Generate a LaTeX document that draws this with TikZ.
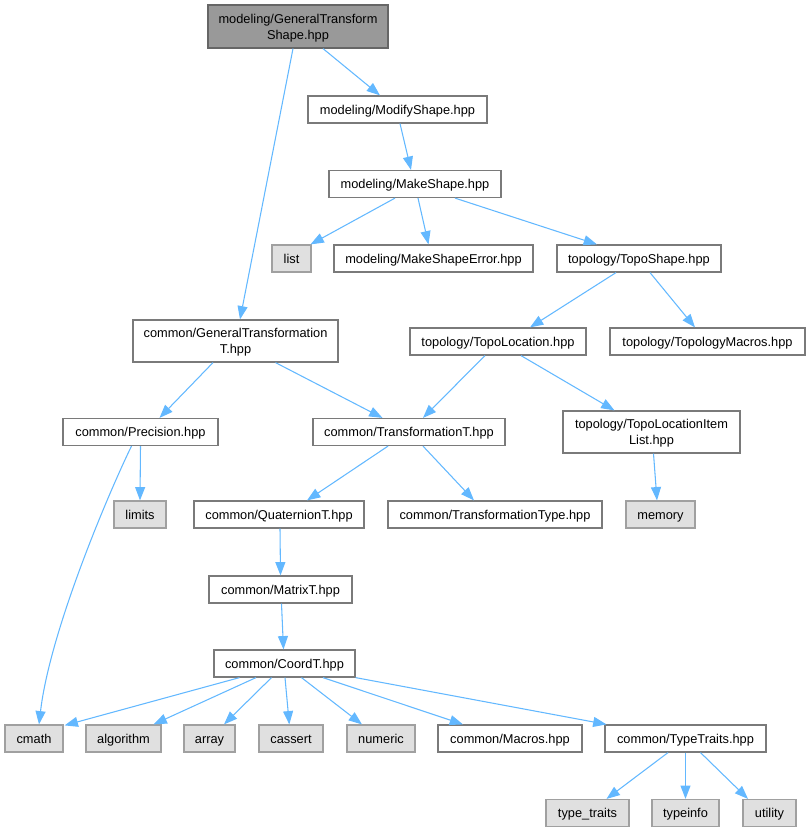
\documentclass[tikz,border=0pt]{standalone}
\usepackage{fontspec}
\setmainfont{Liberation Sans}
\usetikzlibrary{arrows.meta,calc}
\definecolor{edgec}{HTML}{63B8FF}
\definecolor{extfill}{HTML}{E0E0E0}
\definecolor{extdraw}{HTML}{A0A0A0}
\definecolor{regdraw}{HTML}{7A7A7A}
\definecolor{topfill}{HTML}{999999}
\definecolor{topdraw}{HTML}{666666}
\begin{document}
\begin{tikzpicture}[x=0.75pt,y=-0.75pt,
  every node/.style={font=\fontsize{9.6}{12}\selectfont, inner sep=0pt, align=center, text height=7.6pt, text depth=0.8pt},
  reg/.style={draw=regdraw, fill=white, line width=0.9pt, minimum height=20.25pt},
  ext/.style={draw=extdraw, fill=extfill, line width=0.9pt, minimum height=20.25pt},
  topn/.style={draw=topdraw, fill=topfill, line width=0.9pt, minimum height=32.25pt, text height=, text depth=0pt},
  two/.style={minimum height=31.5pt, text height=, text depth=0pt},
  edge/.style={draw=edgec, line width=0.8pt, -{Triangle[length=10pt,width=7.5pt]}}]
\useasboundingbox (0,0) rectangle (810,832);
% nodes
\node[topn, minimum width=135pt] (top) at (298,26.5) {modeling/GeneralTransform\\Shape.hpp};
\node[reg, minimum width=134.25pt] (mod) at (397.5,109.5) {modeling/ModifyShape.hpp};
\node[reg, minimum width=129pt] (make) at (415,184) {modeling/MakeShape.hpp};
\node[ext, minimum width=29.25pt] (list) at (291.5,258.5) {list};
\node[reg, minimum width=149.25pt] (err) at (433.5,258.5) {modeling/MakeShapeError.hpp};
\node[reg, minimum width=123pt] (tshape) at (639,258.5) {topology/TopoShape.hpp};
\node[reg, two, minimum width=153.75pt] (gtt) at (235.5,341) {common/GeneralTransformation\\T.hpp};
\node[reg, minimum width=132pt] (tloc) at (498,341.5) {topology/TopoLocation.hpp};
\node[reg, minimum width=146.25pt] (tmac) at (707.5,341.5) {topology/TopologyMacros.hpp};
\node[reg, minimum width=116.25pt] (prec) at (140.5,432) {common/Precision.hpp};
\node[reg, minimum width=144pt] (trans) at (409,432) {common/TransformationT.hpp};
\node[reg, two, minimum width=132.75pt] (item) at (651.5,432) {topology/TopoLocationItem\\List.hpp};
\node[ext, minimum width=39pt] (limits) at (140,514.5) {limits};
\node[reg, minimum width=127.5pt] (quat) at (279,514.5) {common/QuaternionT.hpp};
\node[reg, minimum width=160.5pt] (ttype) at (495,514.5) {common/TransformationType.hpp};
\node[ext, minimum width=51.75pt] (memory) at (660.5,514.5) {memory};
\node[reg, minimum width=107.25pt] (matrix) at (280.5,589.5) {common/MatrixT.hpp};
\node[reg, minimum width=105.75pt] (coord) at (284.5,663.5) {common/CoordT.hpp};
\node[ext, minimum width=43.5pt] (cmath) at (34,738.5) {cmath};
\node[ext, minimum width=56.25pt] (algo) at (123.5,738.5) {algorithm};
\node[ext, minimum width=38.25pt] (array) at (209.5,738.5) {array};
\node[ext, minimum width=48pt] (cassert) at (291,738.5) {cassert};
\node[ext, minimum width=51pt] (numeric) at (381,738.5) {numeric};
\node[reg, minimum width=108pt] (macros) at (510,738.5) {common/Macros.hpp};
\node[reg, minimum width=120.75pt] (ttraits) at (685.5,738.5) {common/TypeTraits.hpp};
\node[ext, minimum width=62.25pt] (typetraits) at (587.5,813) {type\_traits};
\node[ext, minimum width=50.25pt] (typeinfo) at (685.5,813) {typeinfo};
\node[ext, minimum width=39.75pt] (utility) at (769.5,813) {utility};
% edges
\draw[edge] ($(top.south)+(25,0)$) -- ($(mod.north)+(-17.5,0)$);
\draw[edge] ($(top.south)+(-5,0)$) -- ($(gtt.north)+(4.5,0)$);
\draw[edge] ($(mod.south)+(2.5,0)$) -- ($(make.north)+(-4,0)$);
\draw[edge] ($(make.south)+(-20,0)$) -- ($(list.north)+(19,0)$);
\draw[edge] ($(make.south)+(3,0)$) -- ($(err.north)+(-5,0)$);
\draw[edge] ($(make.south)+(40,0)$) -- ($(tshape.north)+(-42,0)$);
\draw[edge] ($(tshape.south)+(-23,0)$) -- ($(tloc.north)+(32,0)$);
\draw[edge] ($(tshape.south)+(11,0)$) -- ($(tmac.north)+(-12.5,0)$);
\draw[edge] ($(gtt.south)+(-22.5,0)$) -- ($(prec.north)+(19,0)$);
\draw[edge] ($(gtt.south)+(40,0)$) -- ($(trans.north)+(-26.5,0)$);
\draw[edge] ($(tloc.south)+(-13,0)$) -- ($(trans.north)+(14,0)$);
\draw[edge] ($(tloc.south)+(23,0)$) -- ($(item.north)+(-37,0)$);
\draw[edge] (prec.south) -- (limits.north);
\draw[edge] ($(prec.south)+(-9,0)$) .. controls (110,490) and (50,630) .. ($(cmath.north)+(5,0)$);
\draw[edge] ($(trans.south)+(-21,0)$) -- ($(quat.north)+(28,0)$);
\draw[edge] ($(trans.south)+(14,0)$) -- ($(ttype.north)+(-21,0)$);
\draw[edge] ($(item.south)+(2,0)$) -- ($(memory.north)+(-3.5,0)$);
\draw[edge] ($(quat.south)+(1,0)$) -- (matrix.north);
\draw[edge] ($(matrix.south)+(1,0)$) -- ($(coord.north)+(-1,0)$);
\draw[edge] ($(coord.south)+(-45,0)$) -- ($(cmath.north east)+(1,1)$);
\draw[edge] ($(coord.south)+(-28.5,0)$) -- ($(algo.north)+(30,0)$);
\draw[edge] ($(coord.south)+(-13,0)$) -- ($(array.north)+(14.5,0)$);
\draw[edge] ($(coord.south)+(0.5,0)$) -- ($(cassert.north)+(-1.7,0)$);
\draw[edge] ($(coord.south)+(17,0)$) -- ($(numeric.north)+(-19,0)$);
\draw[edge] ($(coord.south)+(38.5,0)$) -- ($(macros.north)+(-47,0)$);
\draw[edge] (coord.south east) -- ($(ttraits.north)+(-79,0)$);
\draw[edge] ($(ttraits.south)+(-17.5,0)$) -- ($(typetraits.north)+(19,0)$);
\draw[edge] (ttraits.south) -- (typeinfo.north);
\draw[edge] ($(ttraits.south)+(15,0)$) -- ($(utility.north)+(-21.5,0)$);
\end{tikzpicture}
\end{document}
